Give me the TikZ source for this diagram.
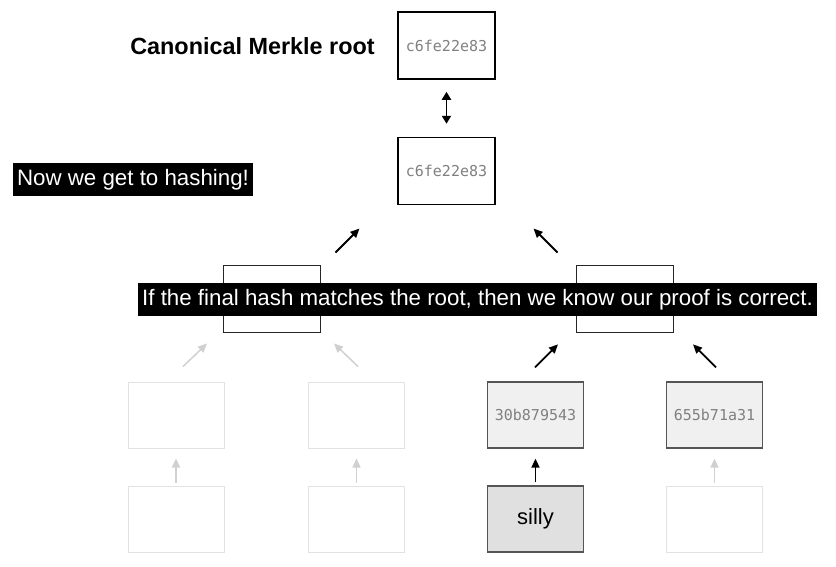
\documentclass[tikz,border=0pt]{standalone}
\usepackage{fontspec}
\setmainfont{Liberation Sans}
\setmonofont{DejaVu Sans Mono}
\usetikzlibrary{arrows.meta}
\usetikzlibrary{positioning}

\definecolor{hashgray}{HTML}{808080}
\definecolor{fadegray}{HTML}{E2E2E2}
\definecolor{fadearrow}{HTML}{D0D0D0}
\definecolor{hashfill}{HTML}{F0F0F0}
\definecolor{leaffill}{HTML}{E0E0E0}
\definecolor{edgegray}{HTML}{555555}

\tikzset{
    hashtext/.style={font=\ttfamily\fontsize{15}{17}\selectfont, text=hashgray},
    rootbox/.style={draw=black, line width=1.5pt, minimum width=97pt, minimum height=67pt, inner sep=0pt, hashtext},
    innerbox/.style={draw=black!85, line width=0.9pt, minimum width=97pt, minimum height=67pt, inner sep=0pt},
    fadedbox/.style={draw=fadegray, line width=1pt, minimum width=96pt, minimum height=66pt, inner sep=0pt},
    hashbox/.style={draw=edgegray, fill=hashfill, line width=1.3pt, minimum width=96pt, minimum height=66pt, inner sep=0pt, hashtext},
    leafbox/.style={draw=edgegray, fill=leaffill, line width=1.3pt, minimum width=96pt, minimum height=66pt, inner sep=0pt, font=\fontsize{22}{25}\selectfont},
    subtitle/.style={fill=black, text=white, inner xsep=4.5pt, inner ysep=0pt, minimum height=33pt, text height=16.5pt, text depth=4.5pt, font=\fontsize{22.3}{26}\selectfont},
    arr/.style={-{Triangle[length=9pt,width=8pt]}, line width=1.8pt, black},
    fadedarr/.style={-{Triangle[length=9pt,width=8pt]}, line width=1.5pt, fadearrow},
}

\begin{document}
\begin{tikzpicture}[x=1pt,y=-1pt]
    \useasboundingbox (0,0) rectangle (836,566);

    %%% Root and computed hash %%%
    \node[font=\bfseries\fontsize{23.4}{27}\selectfont] (rootlabel) at (252.5,46) {Canonical Merkle root};
    \node[rootbox] (root) at (446.5,45.5) {c6fe22e83};
    \node[rootbox] (top) at (446.5,171) {c6fe22e83};
    \draw[{Triangle[length=8pt,width=9pt]}-{Triangle[length=8pt,width=9pt]}, line width=1.8pt, shorten <=12pt, shorten >=13pt] (root) -- (top);

    %%% Level 2 %%%
    \node[innerbox] (l2a) at (271.5,298.5) {};
    \node[innerbox] (l2b) at (625,298.5) {};

    %%% Level 3 %%%
    \node[fadedbox] (l3a) at (176,415) {};
    \node[fadedbox] (l3b) at (356.5,415) {};
    \node[hashbox] (l3c) at (535.5,415) {30b879543};
    \node[hashbox] (l3d) at (714.5,415) {655b71a31};

    %%% Leaves %%%
    \node[fadedbox] (l4a) at (176,519) {};
    \node[fadedbox] (l4b) at (356.5,519) {};
    \node[leafbox] (l4c) at (535.5,519) {silly};
    \node[fadedbox] (l4d) at (714.5,519) {};

    %%% Arrows %%%
    % leaves to level 3
    \draw[fadedarr, shorten <=3pt, shorten >=10pt] (l4a) -- (l3a);
    \draw[fadedarr, shorten <=3pt, shorten >=10pt] (l4b) -- (l3b);
    \draw[arr, shorten <=3pt, shorten >=10pt] (l4c) -- (l3c);
    \draw[fadedarr, shorten <=3pt, shorten >=10pt] (l4d) -- (l3d);
    % level 3 to level 2
    \draw[fadedarr] (l3a.north) ++(7,-15) -- ++(24,-23);
    \draw[fadedarr] (l3b.north) ++(1.5,-15) -- ++(-24,-23);
    \draw[arr] (l3c.north) ++(-0.5,-14) -- ++(23,-23);
    \draw[arr] (l3d.north) ++(1.5,-14) -- ++(-23,-23);
    % level 2 to top
    \draw[arr] (l2a.north east) ++(15,-12) -- ++(24,-24);
    \draw[arr] (l2b.north west) ++(-18.5,-12) -- ++(-24,-24);

    %%% Subtitles %%%
    \node[subtitle] (sub1) at (133,179.5) {Now we get to hashing!};
    \node[subtitle] (sub2) at (477.5,299.5) {If the final hash matches the root, then we know our proof is correct.};
\end{tikzpicture}
\end{document}
